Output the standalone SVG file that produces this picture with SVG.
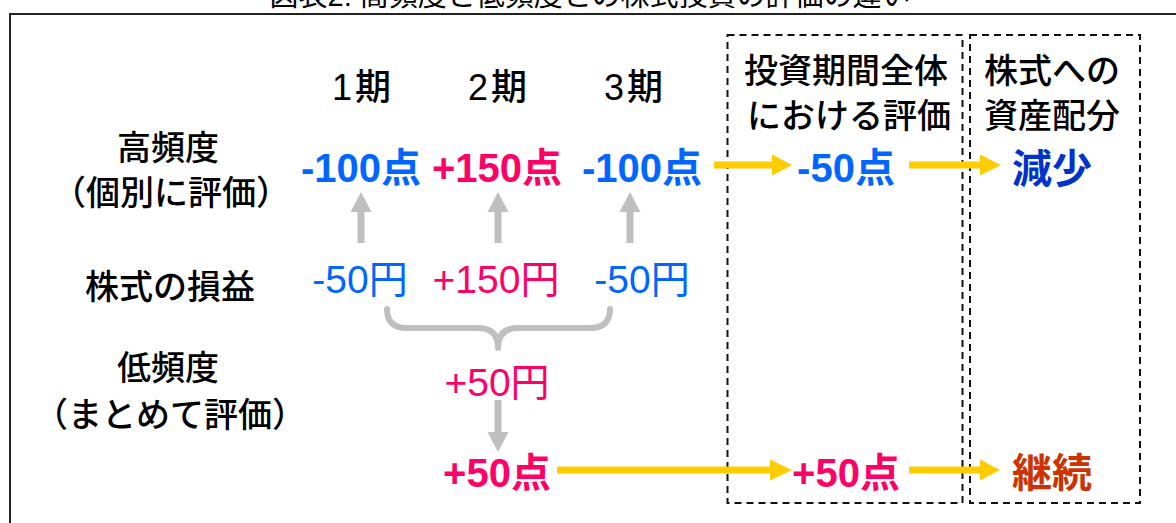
<svg xmlns="http://www.w3.org/2000/svg" width="1176" height="523" viewBox="0 0 1176 523">
<defs>
<style>
.lbl{font-family:"Noto Sans CJK JP",sans-serif;font-size:34px;font-weight:500;fill:#000;text-anchor:middle}
.per{font-family:"Liberation Sans","Noto Sans CJK JP",sans-serif;font-size:36px;font-weight:500;fill:#000;text-anchor:middle;letter-spacing:3px}
.sc{font-family:"Liberation Sans","Noto Sans CJK JP",sans-serif;font-size:40px;font-weight:bold;text-anchor:middle}
.yen{font-family:"Liberation Sans","Noto Sans CJK JP",sans-serif;font-size:39px;text-anchor:middle}
.res{font-family:"Noto Sans CJK JP",sans-serif;font-size:40px;font-weight:bold;text-anchor:middle}
.blue{fill:#0066FF}
.pink{fill:#FF0066}
.dash{fill:none;stroke:#111;stroke-width:2;stroke-dasharray:7 5}
.gshaft{stroke:#BFBFBF;stroke-width:7;fill:none}
.ghead{fill:#BFBFBF}
.yshaft{stroke:#FFCC00;stroke-width:7;fill:none}
.yhead{fill:#FFCC00}
</style>
</defs>
<rect width="1176" height="523" fill="#fff"/>
<text x="590" y="6" style="font-family:'Liberation Sans','Noto Sans CJK JP',sans-serif;font-size:29px;fill:#000" text-anchor="middle">図表2:  高頻度と低頻度との株式投資の評価の違い</text>
<rect id="frame" x="10" y="14" width="1190" height="530" fill="none" stroke="#222" stroke-width="2"/>
<g id="box-total"><rect class="dash" x="727.5" y="35" width="235" height="468"/>
<text class="lbl" x="846" y="83">投資期間全体</text>
<text class="lbl" x="849" y="128">における評価</text></g>
<g id="box-alloc"><rect class="dash" x="970" y="35" width="170" height="468"/>
<text class="lbl" x="1052" y="83">株式への</text>
<text class="lbl" x="1052" y="128">資産配分</text></g>
<g id="row-labels">
<text class="lbl" x="168" y="160">高頻度</text>
<text class="lbl" x="171" y="205">（個別に評価）</text>
<text class="lbl" x="170" y="299">株式の損益</text>
<text class="lbl" x="168" y="380">低頻度</text>
<text class="lbl" x="170" y="427">（まとめて評価）</text>
</g>
<g id="periods">
<text class="per" x="363" y="100">1期</text>
<text class="per" x="499" y="100">2期</text>
<text class="per" x="635" y="100">3期</text>
</g>
<g id="high-scores">
<text class="sc blue" x="361" y="182">-100点</text>
<text class="sc pink" x="497" y="182">+150点</text>
<text class="sc blue" x="642" y="182">-100点</text>
<text class="sc blue" x="846" y="182">-50点</text>
<text class="res" x="1052" y="183" fill="#0033CC">減少</text>
</g>
<g id="pnl">
<text class="yen blue" x="360" y="293">-50円</text>
<text class="yen pink" x="496" y="293">+150円</text>
<text class="yen blue" x="642" y="293">-50円</text>
<text class="yen pink" x="497" y="396">+50円</text>
</g>
<g id="low-scores">
<text class="sc pink" x="497" y="487">+50点</text>
<text class="sc pink" x="846" y="487">+50点</text>
<text class="res" x="1052" y="487" fill="#CC3300">継続</text>
</g>
<g id="connectors">
<line class="gshaft" x1="361" y1="243" x2="361" y2="210"/><polygon class="ghead" points="350.5,212 371.5,212 361,192"/>
<line class="gshaft" x1="498" y1="243" x2="498" y2="210"/><polygon class="ghead" points="487.5,212 508.5,212 498,192"/>
<line class="gshaft" x1="630" y1="243" x2="630" y2="210"/><polygon class="ghead" points="619.5,212 640.5,212 630,192"/>
<path d="M387,309 Q387,328 407,328 L478,328 Q498,328 498,348 Q498,328 518,328 L590,328 Q610,328 610,309" fill="none" stroke="#BFBFBF" stroke-width="6" stroke-linecap="round" stroke-linejoin="round"/>
<line class="gshaft" x1="498" y1="400" x2="498" y2="434"/><polygon class="ghead" points="487.5,432 508.5,432 498,452"/>
<line class="yshaft" x1="714" y1="165" x2="774" y2="165"/><polygon class="yhead" points="772,154.5 772,175.5 792,165"/>
<line class="yshaft" x1="909" y1="165" x2="982" y2="165"/><polygon class="yhead" points="980,154.5 980,175.5 1001,165"/>
<line class="yshaft" x1="557" y1="470" x2="772" y2="470"/><polygon class="yhead" points="770,459.5 770,480.5 792,470"/>
<line class="yshaft" x1="909" y1="470" x2="982" y2="470"/><polygon class="yhead" points="980,459.5 980,480.5 1000,470"/>
</g>
</svg>
